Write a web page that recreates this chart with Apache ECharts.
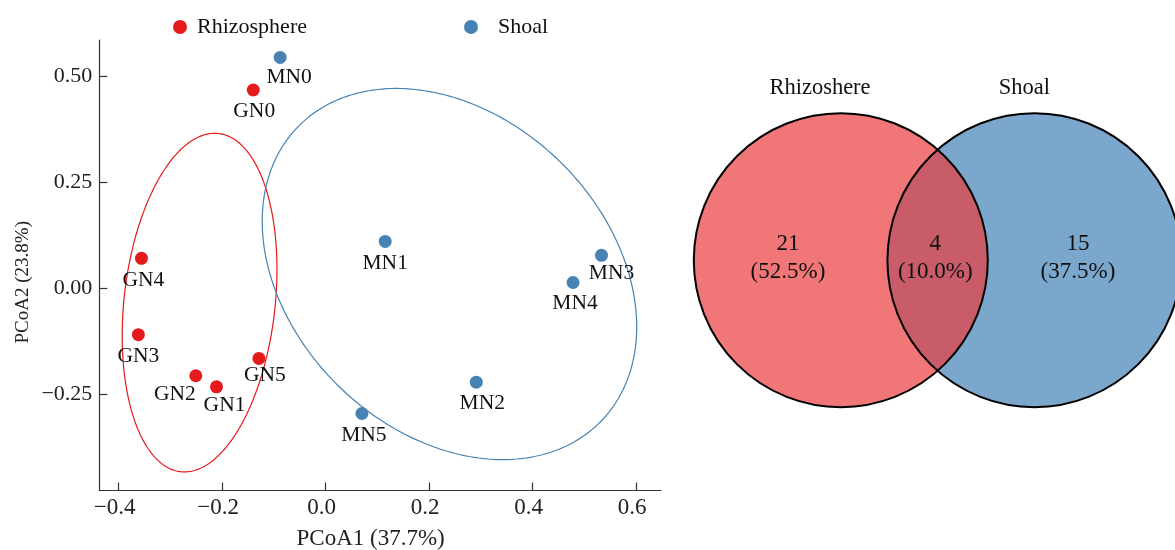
<!DOCTYPE html>
<html><head><meta charset="utf-8">
<script src="https://cdn.jsdelivr.net/npm/echarts@6/dist/echarts.min.js"></script>
<style>html,body{margin:0;padding:0;background:#fff}#c{width:1175px;height:550px}</style>
</head><body><div id="c"></div>
<script>
// ---- PCoA data ----
const rhizoNames = ['GN0','GN1','GN2','GN3','GN4','GN5'];
const rhizoPC1 = [-0.140,-0.211,-0.251,-0.362,-0.356,-0.129];
const rhizoPC2 = [0.467,-0.233,-0.207,-0.110,0.070,-0.166];
const shoalNames = ['MN0','MN1','MN2','MN3','MN4','MN5'];
const shoalPC1 = [-0.088,0.115,0.291,0.533,0.478,0.070];
const shoalPC2 = [0.544,0.110,-0.222,0.077,0.013,-0.296];
// confidence ellipses: centre (x,y), conjugate semi-axis U (x,y), conjugate semi-axis V (x,y)
const rhizoEllipse = [-0.2437,-0.0344, 0.0292,0.3994, 0.1467,0];
const shoalEllipse = [0.2392,0.033, -0.1030,0.4377, 0.3469,0];
const xTicks = [-0.4,-0.2,0,0.2,0.4,0.6];
const yTicks = [-0.25,0,0.25,0.5];
const groupNames = ['Rhizosphere','Shoal'];
// ---- Venn data ----
const vennSets = ['Rhizoshere','Shoal'];
const vennCounts = [21,4,15]; // only-left, shared, only-right

// ---- styles / layout ----
const FONT = '"Liberation Serif", "Times New Roman", serif';
const RED = '#E41A1C', BLUE = '#4682B4';
const labelOffsets = {GN0:[1,21],GN1:[8,19],GN2:[-21,19],GN3:[0,22],GN4:[2,22],GN5:[6,17],
  MN0:[9,20],MN1:[0,22],MN2:[6,21],MN3:[10,18],MN4:[2,21],MN5:[2,22]};
const vennHalfDist = 0.6585; // in circle radii
const vennLabelX = [-1.018, -0.016, 0.955];
const vennTitleX = [-0.80, 0.59];

function pts(names, xs, ys){
  return names.map((n,i)=>({name:n, value:[xs[i], ys[i]], label:{offset:labelOffsets[n]}}));
}
function ellipseItem(params, api){
  const cx=api.value(0), cy=api.value(1), ux=api.value(2), uy=api.value(3), vx=api.value(4), vy=api.value(5);
  const p=[];
  for(let k=0;k<=240;k++){const t=k/240*2*Math.PI;
    p.push(api.coord([cx+ux*Math.cos(t)+vx*Math.sin(t), cy+uy*Math.cos(t)+vy*Math.sin(t)]));}
  return {type:'polyline', shape:{points:p}, style:{stroke:api.visual('color'), fill:'none', lineWidth:1.2}};
}
function vennItem(params, api){
  const total = vennCounts.reduce((a,b)=>a+b,0);
  const r = api.size([1,0])[0];
  const L = api.coord([-vennHalfDist,0]), R = api.coord([vennHalfDist,0]);
  const ch = [];
  ch.push({type:'circle', shape:{cx:R[0],cy:R[1],r:r}, style:{fill:'#7BA7CC', stroke:null}});
  ch.push({type:'circle', shape:{cx:L[0],cy:L[1],r:r}, style:{fill:'rgba(233,60,63,0.70)', stroke:null}});
  ch.push({type:'circle', shape:{cx:R[0],cy:R[1],r:r}, style:{fill:'none', stroke:'#000', lineWidth:2}});
  ch.push({type:'circle', shape:{cx:L[0],cy:L[1],r:r}, style:{fill:'none', stroke:'#000', lineWidth:2}});
  vennCounts.forEach((c,i)=>{
    const a = api.coord([vennLabelX[i], 0.108]);
    const b = api.coord([vennLabelX[i], -0.078]);
    ch.push({type:'text', x:a[0], y:a[1], style:{text:String(c), fill:'#111', fontSize:23, fontFamily:FONT, align:'center', verticalAlign:'middle'}});
    ch.push({type:'text', x:b[0], y:b[1], style:{text:'('+(c/total*100).toFixed(1)+'%)', fill:'#111', fontSize:23, fontFamily:FONT, align:'center', verticalAlign:'middle'}});
  });
  vennSets.forEach((s,i)=>{
    const a = api.coord([vennTitleX[i], 1.169]);
    ch.push({type:'text', x:a[0], y:a[1], style:{text:s, fill:'#111', fontSize:22.5, fontFamily:FONT, align:'center', verticalAlign:'middle'}});
  });
  return {type:'group', children:ch};
}
const minus = s => String(s).replace('-', '\u2212');
const chart = echarts.init(document.getElementById('c'), null, {renderer:'canvas'});
const axisCommon = {
  type:'value', splitLine:{show:false},
  axisLine:{show:true, onZero:false, lineStyle:{color:'#333', width:1.2}},
  axisTick:{show:true, inside:true, length:8, lineStyle:{color:'#333', width:1.2}},
  nameLocation:'middle'
};
chart.setOption({
  animation:false,
  textStyle:{fontFamily:FONT},
  legend:[
    {data:[groupNames[0]], left:168, top:11, icon:'circle', itemWidth:24, itemHeight:14,
     textStyle:{fontFamily:FONT, fontSize:22, color:'#111'}, selectedMode:false},
    {data:[groupNames[1]], left:459, top:11, icon:'circle', itemWidth:44, itemHeight:14,
     textStyle:{fontFamily:FONT, fontSize:22, color:'#111'}, selectedMode:false}
  ],
  grid:[
    {left:99.3, right:514, top:40, bottom:59.5, containLabel:false, outerBoundsMode:'none'},
    {left:660, right:0, top:0, bottom:0, containLabel:false, outerBoundsMode:'none'}
  ],
  xAxis:[
    Object.assign({}, axisCommon, {gridIndex:0, min:-0.4375, max:0.648, name:'PCoA1 (37.7%)', nameGap:37,
      nameTextStyle:{fontFamily:FONT, fontSize:23, color:'#222', padding:[0,19,0,0]},
      axisTick:Object.assign({}, axisCommon.axisTick, {customValues:xTicks}),
      axisLabel:{customValues:xTicks, margin:6, fontSize:23, fontFamily:FONT, color:'#222', padding:[0,8,0,0],
        formatter:v=>minus((Math.abs(v)<1e-9?0:v).toFixed(1))}}),
    {type:'value', gridIndex:1, show:false, min:-1.8884, max:1.6150}
  ],
  yAxis:[
    Object.assign({}, axisCommon, {gridIndex:0, min:-0.4776, max:0.585, name:'PCoA2 (23.8%)', nameGap:67,
      nameTextStyle:{fontFamily:FONT, fontSize:19, color:'#222', padding:[0,34,0,0]},
      axisTick:Object.assign({}, axisCommon.axisTick, {customValues:yTicks}),
      axisLabel:{customValues:yTicks, margin:7, fontSize:22, fontFamily:FONT, color:'#222',
        formatter:v=>minus((Math.abs(v)<1e-9?0:v).toFixed(2))}}),
    {type:'value', gridIndex:1, show:false, min:-1.9714, max:1.7701}
  ],
  series:[
    {type:'custom', name:'ellipseR', xAxisIndex:0, yAxisIndex:0, renderItem:ellipseItem,
     itemStyle:{color:RED}, data:[rhizoEllipse], z:1, silent:true},
    {type:'custom', name:'ellipseS', xAxisIndex:0, yAxisIndex:0, renderItem:ellipseItem,
     itemStyle:{color:BLUE}, data:[shoalEllipse], z:1, silent:true},
    {type:'scatter', name:groupNames[0], xAxisIndex:0, yAxisIndex:0, symbolSize:13,
     itemStyle:{color:RED, opacity:1}, data:pts(rhizoNames, rhizoPC1, rhizoPC2), z:3,
     label:{show:true, position:'inside', formatter:'{b}', color:'#111', fontSize:21.5, fontFamily:FONT, align:'center', verticalAlign:'middle'}},
    {type:'scatter', name:groupNames[1], xAxisIndex:0, yAxisIndex:0, symbolSize:13,
     itemStyle:{color:BLUE, opacity:1}, data:pts(shoalNames, shoalPC1, shoalPC2), z:3,
     label:{show:true, position:'inside', formatter:'{b}', color:'#111', fontSize:21.5, fontFamily:FONT, align:'center', verticalAlign:'middle'}},
    {type:'custom', name:'venn', xAxisIndex:1, yAxisIndex:1, renderItem:vennItem, data:[[0,0]], silent:true}
  ]
});
</script></body></html>
